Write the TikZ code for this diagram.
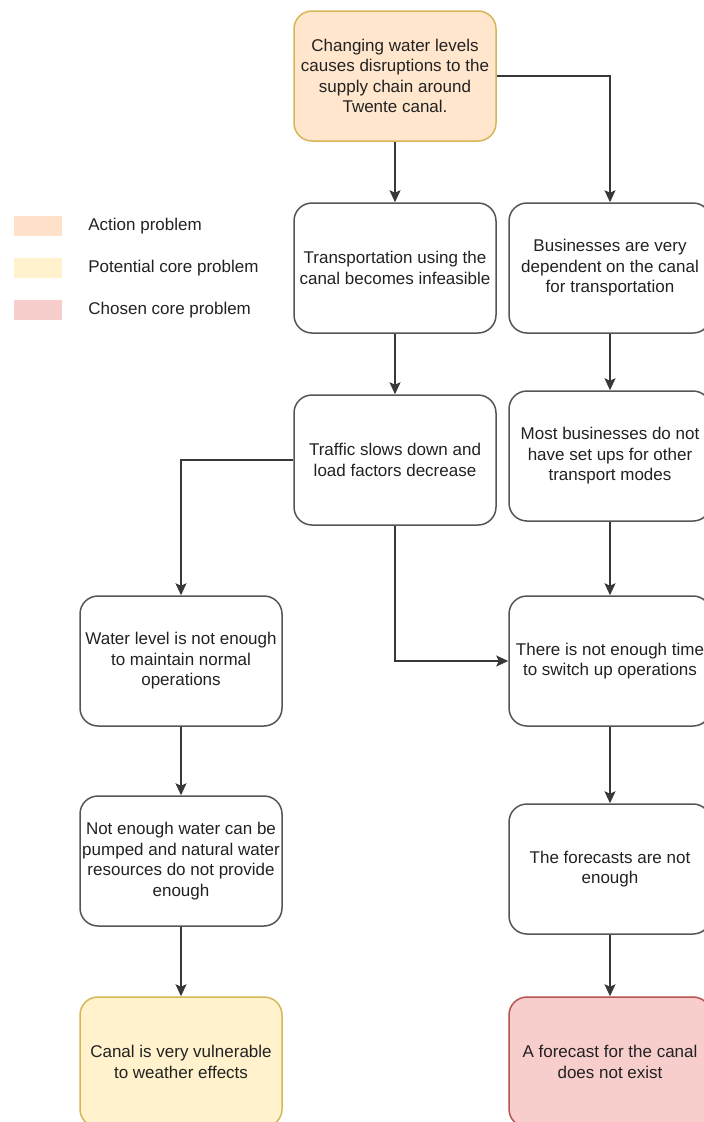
\documentclass[tikz,border=0pt]{standalone}
\usepackage{fontspec}
\setmainfont{Liberation Sans}
\usepackage{tikz}
\usetikzlibrary{arrows.meta,positioning}
\definecolor{inkGray}{RGB}{34,34,34}
\definecolor{boxGray}{RGB}{85,85,85}
\definecolor{actionFill}{RGB}{255,230,204}
\definecolor{actionLegend}{RGB}{255,224,200}
\definecolor{potentialFill}{RGB}{255,242,204}
\definecolor{potentialDraw}{RGB}{214,182,86}
\definecolor{chosenFill}{RGB}{248,206,204}
\definecolor{chosenDraw}{RGB}{184,84,80}
\tikzset{
  cause node/.style={draw=boxGray,fill=white,rounded corners=18pt,line width=1.5pt,align=center,text=inkGray,
    minimum width=202pt,minimum height=130pt,inner sep=0pt},
  cause node action/.style={cause node,draw=potentialDraw,fill=actionFill},
  cause node potential/.style={cause node,draw=potentialDraw,fill=potentialFill},
  cause node chosen/.style={cause node,draw=chosenDraw,fill=chosenFill},
  cause arrow/.style={-{Stealth[length=12pt,width=11pt,inset=2.5pt]},line width=1.5pt,draw=inkGray!90},
  legend swatch/.style={minimum width=48pt,minimum height=20pt,inner sep=0pt},
  legend text/.style={text=inkGray,inner sep=0pt,anchor=west}
}

\begin{document}
\begin{tikzpicture}[x=1pt,y=-1pt,font=\fontsize{17pt}{20.5pt}\selectfont]
  \clip (0,0) rectangle (704,1122);
  \fill[white] (0,0) rectangle (704,1122);
  % legend
  \node[legend swatch,fill=actionLegend] (swAction) at (38,226) {};
  \node[legend swatch,fill=potentialFill] (swPotential) at (38,268) {};
  \node[legend swatch,fill=chosenFill] (swChosen) at (38,310) {};
  \node[legend text,right=26pt of swAction] (lgAction) {Action problem};
  \node[legend text,right=26pt of swPotential] (lgPotential) {Potential core problem};
  \node[legend text,right=26pt of swChosen] (lgChosen) {Chosen core problem};
  % problem boxes
  \node[cause node action] (top) at (395,76) {Changing water levels\\causes disruptions to the\\supply chain around\\Twente canal.};
  \node[cause node] (trans) at (395,268) {Transportation using the\\canal becomes infeasible};
  \node[cause node] (busi) at (610,268) {Businesses are very\\dependent on the canal\\for transportation};
  \node[cause node] (traffic) at (395,460) {Traffic slows down and\\load factors decrease};
  \node[cause node] (most) at (610,456) {Most businesses do not\\have set ups for other\\transport modes};
  \node[cause node] (water) at (181,661) {Water level is not enough\\to maintain normal\\operations};
  \node[cause node] (notime) at (610,661) {There is not enough time\\to switch up operations};
  \node[cause node] (pump) at (181,861) {Not enough water can be\\pumped and natural water\\resources do not provide\\enough};
  \node[cause node] (forecasts) at (610,869) {The forecasts are not\\enough};
  \node[cause node potential] (canal) at (181,1062) {Canal is very vulnerable\\to weather effects};
  \node[cause node chosen] (exist) at (610,1062) {A forecast for the canal\\does not exist};
  % connectors
  \draw[cause arrow] (top) -- (trans);
  \draw[cause arrow] (top.east) -| (busi);
  \draw[cause arrow] (trans) -- (traffic);
  \draw[cause arrow] (busi) -- (most);
  \draw[cause arrow] (traffic.west) -| (water);
  \draw[cause arrow] (traffic.south) |- (notime.west);
  \draw[cause arrow] (most) -- (notime);
  \draw[cause arrow] (water) -- (pump);
  \draw[cause arrow] (notime) -- (forecasts);
  \draw[cause arrow] (pump) -- (canal);
  \draw[cause arrow] (forecasts) -- (exist);
\end{tikzpicture}
\end{document}
